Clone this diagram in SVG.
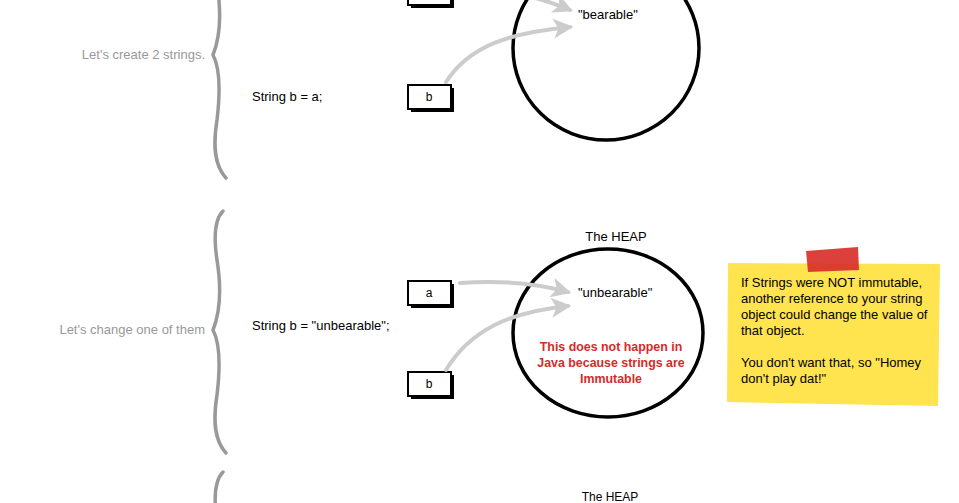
<svg xmlns="http://www.w3.org/2000/svg" width="959" height="503" viewBox="0 0 959 503">
<style>
text{font-family:"Liberation Sans",Arial,sans-serif;font-size:12px;fill:#000}
.big{font-size:13px}
.lbl{fill:#999;text-anchor:end;font-size:13px}
.red{fill:#d62a2a;font-weight:bold;text-anchor:middle;font-size:12.4px}
.mid{text-anchor:middle}
.brace{fill:none;stroke:#999;stroke-width:3.5;stroke-linecap:round}
.heap{fill:none;stroke:#000;stroke-width:3.5}
.box{fill:#fff;stroke:#000;stroke-width:2}
.shadow{fill:#000}
.arr{fill:none;stroke:#ccc;stroke-width:4;stroke-linecap:round}
</style>
<defs>
<marker id="ah" viewBox="0 0 12 12" refX="10" refY="6" markerWidth="5" markerHeight="5" orient="auto" markerUnits="strokeWidth">
<path d="M0,0 L12,6 L0,12 L3,6 Z" fill="#ccc"/>
</marker>
</defs>
<rect width="959" height="503" fill="#fff"/>

<g id="section1">
<path class="brace" d="M223 -64 C214 -55,214 -35,217 -15 C221 10,221 35,213 55 C221 70,220 95,217 120 C213 145,214 165,226 178"/>
<text class="lbl" x="205" y="59">Let's create 2 strings.</text>
<text class="big" x="252" y="-3">String a = "bearable";</text>
<text class="big" x="252" y="101">String b = a;</text>
</g>

<g id="boxA1">
<rect class="shadow" x="411" y="-16" width="43" height="24"/>
<rect class="box" x="408" y="-19" width="43" height="24"/>
</g>
<g id="boxB1">
<rect class="shadow" x="411" y="88" width="43" height="24"/>
<rect class="box" x="408" y="85" width="43" height="24"/>
<text class="mid" x="429" y="101">b</text>
</g>
<g id="heap1">
<ellipse class="heap" cx="606" cy="48" rx="93" ry="92"/>
<text class="big" x="578" y="19">"bearable"</text>
</g>

<g id="section2">
<path class="brace" d="M223 211 C214 220,214 240,217 260 C221 285,221 310,213 330 C221 345,220 370,217 395 C213 420,214 440,226 453"/>
<text class="lbl" x="205" y="334">Let's change one of them</text>
<text class="big" x="252" y="330">String b = "unbearable";</text>
</g>
<g id="boxA2">
<rect class="shadow" x="411" y="284" width="43" height="24"/>
<rect class="box" x="408" y="281" width="43" height="24"/>
<text class="mid" x="429" y="297">a</text>
</g>
<g id="boxB2">
<rect class="shadow" x="411" y="375" width="43" height="24"/>
<rect class="box" x="408" y="372" width="43" height="24"/>
<text class="mid" x="429" y="388">b</text>
</g>
<g id="heap2">
<text class="mid big" x="616" y="241">The HEAP</text>
<ellipse class="heap" cx="608" cy="333" rx="95" ry="84"/>
<text class="big" x="578" y="297">"unbearable"</text>
<text class="red" x="611" y="351">This does not happen in</text>
<text class="red" x="611" y="367">Java because strings are</text>
<text class="red" x="611" y="383">Immutable</text>
</g>

<g id="note">
<path d="M728 263 L940 264 L938 406 L727 402 Z" fill="#ffe34f"/>
<path d="M806 251 L858 247 L859 270 L808 272 Z" fill="#d8302a" opacity="0.92"/>
<text class="big" x="741" y="287">If Strings were NOT immutable,</text>
<text class="big" x="741" y="303">another reference to your string</text>
<text class="big" x="741" y="319">object could change the value of</text>
<text class="big" x="741" y="335">that object.</text>
<text class="big" x="741" y="367">You don't want that, so "Homey</text>
<text class="big" x="741" y="383">don't play dat!"</text>
</g>

<g id="section3">
<path class="brace" d="M223 472 C214 481,214 501,217 521"/>
<text class="mid" x="610" y="501">The HEAP</text>
</g>

<g id="connectors">
<path class="arr" d="M459 -12 C500 -12,535 -5,570 10" marker-end="url(#ah)"/>
<path class="arr" d="M446 82 C470 45,510 33,570 27" marker-end="url(#ah)"/>
<path class="arr" d="M460 283 C500 280,535 283,568 292" marker-end="url(#ah)"/>
<path class="arr" d="M446 370 C470 330,510 312,568 306" marker-end="url(#ah)"/>
</g>
</svg>
